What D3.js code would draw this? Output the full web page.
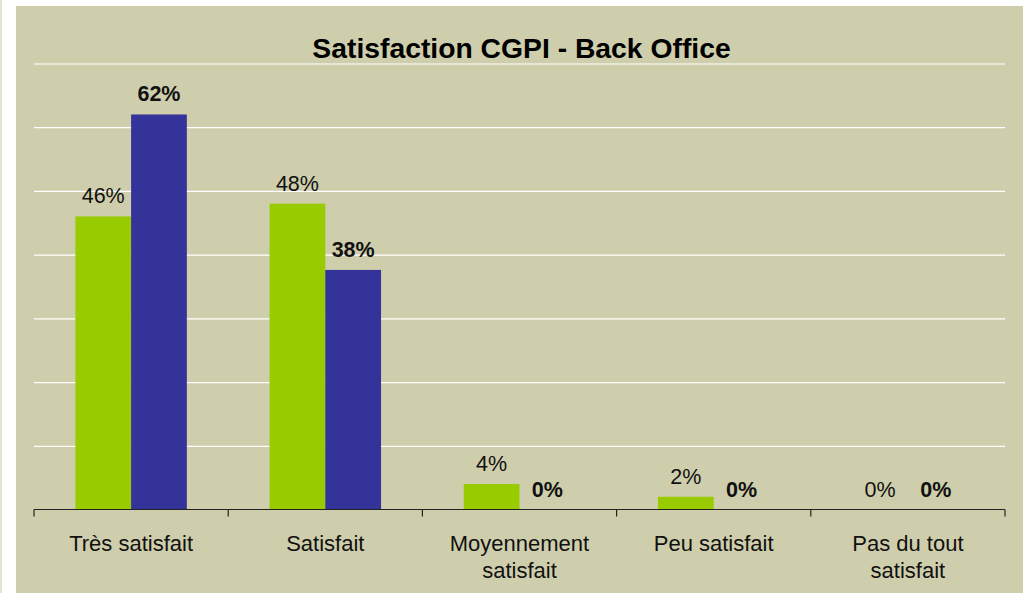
<!DOCTYPE html>
<html>
<head>
<meta charset="utf-8">
<script src="https://cdn.jsdelivr.net/npm/d3@7"></script>
<style>
  html, body { margin: 0; padding: 0; background: #fff; }
  svg { display: block; font-family: "Liberation Sans", Arial, sans-serif; }
</style>
</head>
<body>
<div id="chart"></div>
<script>
const title = 'Satisfaction CGPI - Back Office';
const categories = [
  ['Très satisfait'],
  ['Satisfait'],
  ['Moyennement', 'satisfait'],
  ['Peu satisfait'],
  ['Pas du tout', 'satisfait']
];
const series1 = [0.46, 0.48, 0.04, 0.02, 0.00]; // green
const series2 = [0.62, 0.376, 0.00, 0.00, 0.00]; // blue
const yTicks = [0, 0.1, 0.2, 0.3, 0.4, 0.5, 0.6, 0.7];

const width = 1023;
const height = 593;
const plot = { left: 34, right: 1005, top: 63.5, bottom: 509.5 };

const svg = d3.select('#chart')
  .append('svg')
  .attr('width', width)
  .attr('height', height);

// thin strip at the far left, then the khaki panel
svg.append('rect').attr('x', 0).attr('y', 0).attr('width', 2).attr('height', height).attr('fill', '#e4e4d6');
svg.append('rect')
  .attr('x', 16).attr('y', 6)
  .attr('width', width - 16).attr('height', height - 6)
  .attr('fill', '#cfceac');

const x0 = d3.scaleBand()
  .domain(d3.range(categories.length))
  .range([plot.left, plot.right])
  .paddingInner(0.426)
  .paddingOuter(0.213);

const x1 = d3.scaleBand()
  .domain([0, 1])
  .range([0, x0.bandwidth()]);

const y = d3.scaleLinear().domain([0, 0.7]).range([plot.bottom, plot.top]);

// gridlines
svg.append('g')
  .attr('class', 'gridlines')
  .attr('transform', `translate(${plot.left}, 0)`)
  .call(d3.axisLeft(y).tickValues(yTicks.slice(1)).tickFormat('').tickSize(-(plot.right - plot.left)))
  .call(g => g.select('.domain').remove())
  .call(g => g.selectAll('line').attr('stroke', '#ffffff').attr('stroke-width', 1.2));

// bars
const fmt = d3.format('.0%');
const rows = categories.map((c, i) => ({ i, vals: [series1[i], series2[i]] }));
const colors = ['#99cc00', '#333399'];

const groups = svg.append('g').selectAll('g').data(rows).join('g')
  .attr('transform', d => `translate(${x0(d.i)}, 0)`);

groups.selectAll('rect')
  .data(d => d.vals.map((v, k) => ({ v, k })))
  .join('rect')
  .attr('x', d => x1(d.k))
  .attr('y', d => y(d.v))
  .attr('width', x1.bandwidth())
  .attr('height', d => y(0) - y(d.v))
  .attr('fill', d => colors[d.k]);

groups.selectAll('text')
  .data(d => d.vals.map((v, k) => ({ v, k })))
  .join('text')
  .attr('x', d => x1(d.k) + x1.bandwidth() / 2)
  .attr('y', d => y(d.v) - 13)
  .attr('text-anchor', 'middle')
  .attr('font-size', 21.5)
  .attr('font-weight', d => d.k === 1 ? 'bold' : 'normal')
  .attr('fill', '#111')
  .text(d => fmt(d.v));

// x axis with ticks at category boundaries
const bounds = d3.range(categories.length + 1).map(i => plot.left + i * x0.step());
const axis = svg.append('g').attr('stroke', '#222').attr('stroke-width', 1.2);
axis.append('line')
  .attr('x1', plot.left).attr('x2', plot.right)
  .attr('y1', y(0)).attr('y2', y(0));
axis.selectAll('.tick').data(bounds).join('line')
  .attr('class', 'tick')
  .attr('x1', d => d).attr('x2', d => d)
  .attr('y1', y(0)).attr('y2', y(0) + 7);

// category labels
svg.append('g').selectAll('text').data(categories).join('text')
  .attr('x', (d, i) => x0(i) + x0.bandwidth() / 2)
  .attr('y', 551)
  .attr('text-anchor', 'middle')
  .attr('font-size', 22)
  .attr('fill', '#111')
  .selectAll('tspan').data(d => d).join('tspan')
  .attr('x', function () { return this.parentNode.getAttribute('x'); })
  .attr('dy', (d, j) => j === 0 ? 0 : 27)
  .text(d => d);

// title
svg.append('text')
  .attr('x', 521.5)
  .attr('y', 58)
  .attr('text-anchor', 'middle')
  .attr('font-size', 28.3)
  .attr('font-weight', 'bold')
  .attr('fill', '#000')
  .text(title);
</script>
</body>
</html>
